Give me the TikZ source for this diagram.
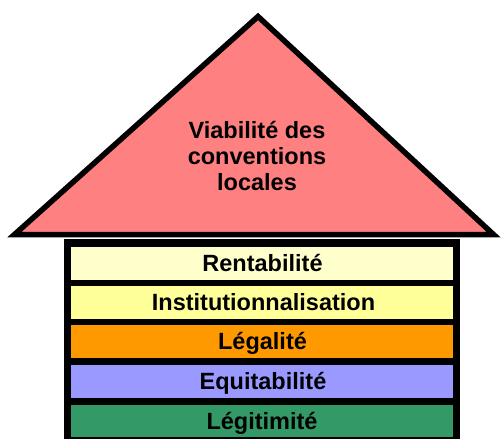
\documentclass[tikz,border=0pt]{standalone}
\usepackage{fontspec}
\setmainfont{Liberation Sans}
\definecolor{roof}{HTML}{FF8080}
\definecolor{cRent}{HTML}{FFFFCC}
\definecolor{cInst}{HTML}{FFFF99}
\definecolor{cLeg}{HTML}{FF9900}
\definecolor{cEqu}{HTML}{9999FF}
\definecolor{cLgt}{HTML}{339966}
\begin{document}
\begin{tikzpicture}[x=1pt,y=-1pt,
  band/.style={fill=#1, minimum width=382pt, minimum height=32.5pt, inner sep=0pt,
    text height=16pt, text depth=0pt, font=\fontsize{23.5pt}{26pt}\selectfont\bfseries},
  rooftext/.style={align=center, inner sep=0pt, font=\fontsize{23.5pt}{26pt}\selectfont\bfseries}]
\useasboundingbox (0,0) rectangle (501,439);
% roof
\draw[line width=5.5pt, line join=miter, fill=roof] (258,16.5) -- (14.5,234.5) -- (493.5,234.5) -- cycle;
\node[rooftext] (roof) at (257,156) {Viabilité des\\conventions\\locales};
% body frame
\node[fill=black, minimum width=396pt, minimum height=202pt, inner sep=0pt, anchor=north west] (frame) at (64,239) {};
% bands
\node[band=cRent] (rent) at (262,263.25) {\hspace*{1pt}Rentabilité};
\node[band=cInst] (inst) at (262,302.25) {\hspace*{3pt}Institutionnalisation};
\node[band=cLeg]  (leg)  at (262,341.5)  {\hspace*{1pt}Légalité};
\node[band=cEqu]  (equ)  at (262,381.25) {\hspace*{2pt}Equitabilité};
\node[band=cLgt]  (lgt)  at (262,421)    {Légitimité};
\end{tikzpicture}
\end{document}
